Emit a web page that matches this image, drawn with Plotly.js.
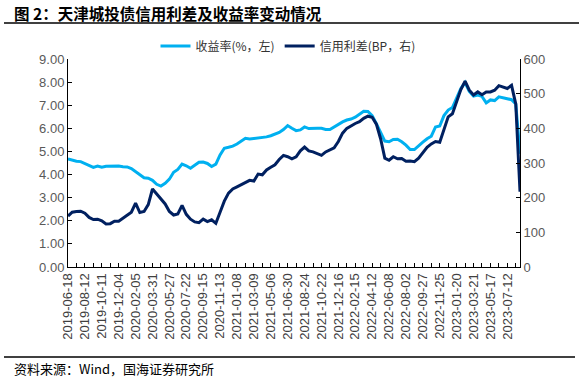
<!DOCTYPE html>
<html>
<head>
<meta charset="utf-8">
<script src="https://cdn.plot.ly/plotly-3.0.1.min.js"></script>
<style>
  html, body { margin: 0; padding: 0; background: #fff; }
  #chart { width: 583px; height: 378px; }
</style>
</head>
<body>
<div id="chart"></div>
<script>
// ---- data (sampled every 10 trading days from 2019-06-18) ----
const tickLabels = ['2019-06-18','2019-08-12','2019-10-11','2019-12-04','2020-02-05','2020-03-31','2020-05-27','2020-07-22','2020-09-15','2020-11-13','2021-01-08','2021-03-09','2021-05-06','2021-06-30','2021-08-24','2021-10-22','2021-12-16','2022-02-15','2022-04-12','2022-06-08','2022-08-02','2022-09-27','2022-11-25','2023-01-20','2023-03-21','2023-05-17','2023-07-12'];

const yieldVals = [4.68,4.62,4.58,4.56,4.48,4.40,4.31,4.37,4.32,4.36,
  4.37,4.35,4.37,4.34,4.33,4.26,4.12,4.00,3.86,3.84,
  3.75,3.58,3.50,3.62,3.80,4.10,4.22,4.45,4.38,4.27,
  4.40,4.53,4.54,4.48,4.35,4.45,4.85,5.14,5.18,5.23,
  5.32,5.45,5.57,5.54,5.56,5.57,5.60,5.63,5.68,5.76,
  5.82,5.95,6.12,6.00,5.90,5.93,6.06,5.99,5.98,6.00,
  6.00,5.95,5.95,6.06,6.20,6.28,6.36,6.40,6.48,6.62,
  6.74,6.73,6.55,6.20,5.80,5.45,5.42,5.52,5.53,5.42,
  5.27,5.08,5.08,5.22,5.40,5.55,5.66,6.06,6.10,6.55,
  6.79,6.90,7.35,7.72,7.98,7.60,7.40,7.44,7.38,7.10,
  7.23,7.20,7.36,7.33,7.28,7.24,7.05,4.90];

const spreadVals = [147,158,160,161,155,143,137,138,133,124,
  125,132,132,140,148,158,184,157,160,180,
  225,210,195,182,160,150,153,178,152,138,
  130,128,138,131,136,126,158,190,213,225,
  231,238,245,250,248,268,266,280,288,295,
  310,322,318,312,318,335,346,335,332,328,
  322,332,338,344,362,386,400,408,414,419,
  429,435,432,412,370,314,308,318,312,313,
  305,306,304,314,328,345,355,362,360,400,
  433,442,478,512,536,510,496,505,497,505,
  505,510,523,519,515,524,470,217];

const STEP = 10;        // trading days between samples
const LABEL_EVERY = 40; // trading days between date labels
const TICK_EVERY = 20;

const xs = yieldVals.map((_, i) => i * STEP);

const tickvals = [], ticktext = [];
for (let v = 0; v <= 1060; v += TICK_EVERY) {
  tickvals.push(v);
  ticktext.push(v % LABEL_EVERY === 0 ? tickLabels[v / LABEL_EVERY] : '');
}

const numFont = 'Liberation Sans, Arial, Noto Sans CJK SC, sans-serif';
const cjkFont = 'Noto Sans CJK SC, Liberation Sans, sans-serif';

const traces = [
  { x: xs, y: yieldVals, name: '收益率(%，左)', type: 'scatter', mode: 'lines',
    line: { color: '#00B0F0', width: 3 }, yaxis: 'y' },
  { x: xs, y: spreadVals, name: '信用利差(BP，右)', type: 'scatter', mode: 'lines',
    line: { color: '#002060', width: 3 }, yaxis: 'y2' }
];

// pixel helpers -> paper coords (plot area: x 68..520, y 59..267)
const PL = 68, PR = 520, PT = 59, PB = 267;
const px = x => (x - PL) / (PR - PL);
const py = y => (PB - y) / (PB - PT);

const layout = {
  width: 583, height: 378,
  margin: { l: PL, r: 583 - PR, t: PT, b: 378 - PB, pad: 0 },
  paper_bgcolor: '#fff', plot_bgcolor: '#fff',
  showlegend: true,
  legend: { orientation: 'h', x: px(288), xanchor: 'center', y: py(46), yanchor: 'middle',
    font: { family: cjkFont, size: 12, color: '#333' }, bgcolor: 'rgba(0,0,0,0)',
    itemwidth: 30, tracegroupgap: 0 },
  xaxis: {
    type: 'linear', range: [0, 1070], showgrid: false, zeroline: false,
    showline: true, linecolor: '#000', linewidth: 1,
    tickmode: 'array', tickvals: tickvals, ticktext: ticktext,
    ticks: 'inside', ticklen: 4, tickcolor: '#000', tickangle: -90,
    tickfont: { family: numFont, size: 13, color: '#404040' }
  },
  yaxis: {
    range: [0, 9], dtick: 1, tick0: 0, tickformat: '.2f', showgrid: false, zeroline: false,
    showline: true, linecolor: '#000', linewidth: 1,
    ticks: 'inside', ticklen: 4, tickcolor: '#000',
    tickfont: { family: numFont, size: 13, color: '#595959' }
  },
  yaxis2: {
    range: [0, 600], dtick: 100, tick0: 0, overlaying: 'y', side: 'right',
    showgrid: false, zeroline: false,
    showline: true, linecolor: '#000', linewidth: 1,
    ticks: 'inside', ticklen: 4, tickcolor: '#000',
    tickfont: { family: numFont, size: 13, color: '#595959' }
  },
  annotations: [
    { text: '<b>图 2：天津城投债信用利差及收益率变动情况</b>', xref: 'paper', yref: 'paper',
      x: px(12), y: py(13), xanchor: 'left', yanchor: 'middle', showarrow: false,
      font: { family: cjkFont, size: 15.5, color: '#000' } },
    { text: '资料来源：Wind，国海证券研究所', xref: 'paper', yref: 'paper',
      x: px(12), y: py(368), xanchor: 'left', yanchor: 'middle', showarrow: false,
      font: { family: cjkFont, size: 13, color: '#000' } }
  ],
  shapes: [
    { type: 'line', xref: 'paper', yref: 'paper', x0: px(4), x1: px(579), y0: py(23), y1: py(23),
      line: { color: '#000', width: 1.5 } },
    { type: 'line', xref: 'paper', yref: 'paper', x0: px(4), x1: px(575), y0: py(357), y1: py(357),
      line: { color: '#000', width: 1.5 } }
  ]
};

Plotly.newPlot('chart', traces, layout, { displayModeBar: false, staticPlot: true });
</script>
</body>
</html>
